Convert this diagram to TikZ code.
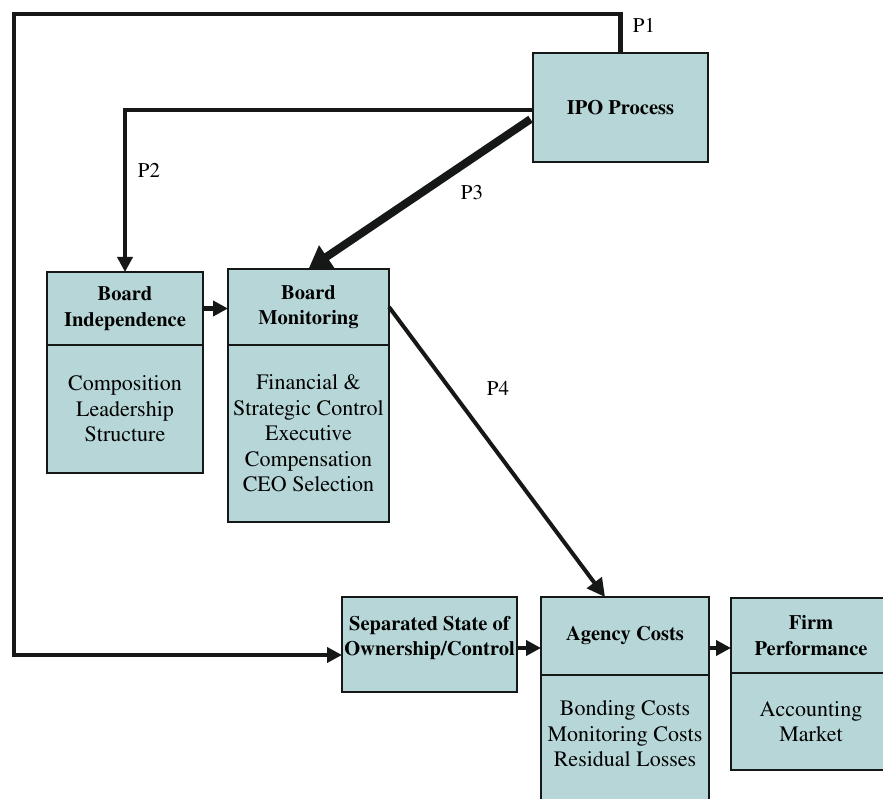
\documentclass[tikz,border=0pt]{standalone}
\usepackage[T1]{fontenc}
\renewcommand{\rmdefault}{ptm}
\usetikzlibrary{arrows.meta}
\definecolor{boxfill}{RGB}{182,214,215}
\definecolor{ink}{RGB}{22,24,24}
\begin{document}
\begin{tikzpicture}[x=1pt,y=-1pt,
  box/.style={draw=ink, line width=1.6pt, fill=boxfill, inner sep=0pt, outer sep=0pt, anchor=north west, align=center},
  ttl/.style={font=\fontsize{20.5}{25.5}\selectfont\bfseries, align=center},
  bdy/.style={font=\fontsize{22}{25.5}\selectfont, align=center},
  plab/.style={font=\fontsize{21}{24}\selectfont, inner sep=0pt},
  conn/.style={draw=ink, line width=4.5pt},
  head/.style={-{Triangle[length=15pt,width=15pt]}},
]
\useasboundingbox (0,0) rectangle (883,799);
\clip (0,0) rectangle (883,799);

% boxes
\node[box, ttl, minimum width=175pt, minimum height=109pt] (ipo) at (533,53) {IPO Process};

\node[box, ttl, minimum width=156pt, minimum height=73pt] (bih) at (47,272) {Board\\Independence};
\node[box, bdy, minimum width=156pt, minimum height=128pt] (bib) at (bih.south west) {Composition\\Leadership\\Structure};

\node[box, ttl, minimum width=161pt, minimum height=76pt] (bmh) at (228,269) {Board\\Monitoring};
\node[box, bdy, minimum width=161pt, minimum height=177pt] (bmb) at (bmh.south west) {Financial \&\\Strategic Control\\Executive\\Compensation\\CEO Selection};

\node[box, minimum width=175pt, minimum height=95pt] (sep) at (342,597) {};
\node[ttl] (septxt) at (429.5,638) {Separated State of\\Ownership/Control};

\node[box, ttl, minimum width=168pt, minimum height=78pt] (agh) at (541,597) {Agency Costs};
\node[box, minimum width=168pt, minimum height=135pt] (agb) at (agh.south west) {};
\node[bdy] (agtxt) at (625,734) {Bonding Costs\\Monitoring Costs\\Residual Losses};

\node[box, ttl, minimum width=160pt, minimum height=75pt] (fh) at (731,598) {Firm\\Performance};
\node[box, bdy, minimum width=160pt, minimum height=97pt] (fb) at (fh.south west) {Accounting\\Market};

% connectors
\coordinate (tl) at (14,14);
\draw[conn, head] (ipo.north) |- (tl) |- ([yshift=-10.5pt]sep.west);
\draw[conn, line width=4pt, head] ([yshift=-2.5pt]ipo.west) -| (bih.north);
\draw[conn, line width=8pt, shorten <=3pt, -{Triangle[length=22pt,width=26pt]}] ([yshift=-10pt]ipo.west) -- (bmh.north);
\draw[conn, line width=4pt, -{Triangle[length=18pt,width=18pt]}] (bmh.east) -- ([xshift=-20pt]agh.north);
\draw[conn, head] (bih.east) -- (bih.east -| bmh.west);
\draw[conn, head] ([yshift=-3.5pt]sep.east) -- ([yshift=-3.5pt]sep.east -| agh.west);
\draw[conn, head] ([yshift=-12pt]agh.east) -- ([yshift=-12pt]agh.east -| fh.west);

% labels
\node[plab] (p1) at (644,25) {P1};
\node[plab] (p2) at (149,170) {P2};
\node[plab] (p3) at (472,192) {P3};
\node[plab] (p4) at (498,388) {P4};
\end{tikzpicture}
\end{document}
